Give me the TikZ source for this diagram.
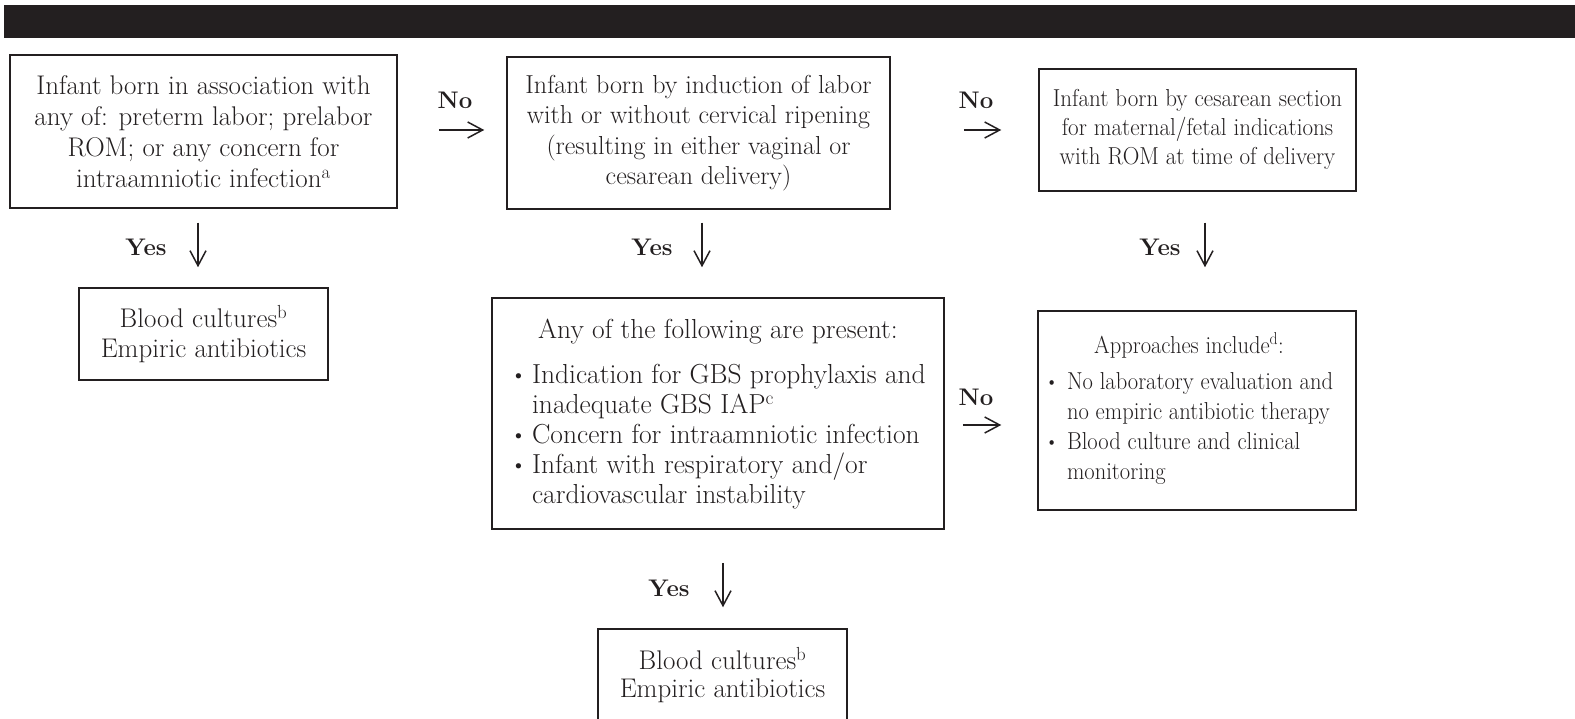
\documentclass[tikz,border=0pt]{standalone}
\usetikzlibrary{arrows.meta}
\definecolor{ink}{HTML}{231F20}
\newcommand{\bul}{\raisebox{0.1ex}{\scalebox{0.85}{\textbullet}}}
\begin{document}
\begin{tikzpicture}[x=1pt,y=-1pt,
  box/.style={draw=ink, line width=1.5pt, inner sep=0pt, align=center, text=ink},
  big/.style={font=\fontsize{27}{31}\selectfont},
  mid/.style={font=\fontsize{26}{30.5}\selectfont},
  lab/.style={font=\fontsize{24}{28}\selectfont\bfseries, text=ink},
  arr/.style={draw=ink, line width=1.5pt, -{Straight Barb[length=15pt,width=16pt,line width=1.5pt]}}]
\useasboundingbox (0,0) rectangle (1575,719);
\fill[ink] (4,5) rectangle (1575,38);

\node[box, big, minimum width=387pt, minimum height=153pt] (A) at (203.5,131.5)
  {Infant born in association with\\any of: preterm labor; prelabor\\ROM; or any concern for\\intraamniotic infection\textsuperscript{a}};
\node[box, mid, minimum width=383pt, minimum height=152pt] (B) at (698.5,133)
  {Infant born by induction of labor\\with or without cervical ripening\\(resulting in either vaginal or\\cesarean delivery)};
\node[box, font=\fontsize{24.5}{29}\selectfont, minimum width=317pt, minimum height=122pt] (C) at (1197.5,130)
  {\scalebox{0.94}[1]{\begin{tabular}{@{}c@{}}Infant born by cesarean section\\for maternal/fetal indications\\with ROM at time of delivery\end{tabular}}};
\node[box, font=\fontsize{27}{30}\selectfont, minimum width=249pt, minimum height=92pt] (L) at (203.5,334)
  {Blood cultures\textsuperscript{b}\\Empiric antibiotics};
\node[box, font=\fontsize{27.5}{30}\selectfont, minimum width=452pt, minimum height=231pt] (D) at (718,413.5)
  {\rule{0pt}{24pt}Any of the following are present:\\[17pt]
   \begin{tabular}{@{}l@{\hspace{5pt}}l@{}}
   \bul & Indication for GBS prophylaxis and\\
        & inadequate GBS IAP\textsuperscript{c}\\
   \bul & Concern for intraamniotic infection\\
   \bul & Infant with respiratory and/or\\
        & cardiovascular instability
   \end{tabular}};
\node[box, font=\fontsize{24.5}{30}\selectfont, minimum width=318pt, minimum height=199pt] (F) at (1197,410.5)
  {\scalebox{0.92}[1]{\begin{tabular}{@{}c@{}}Approaches include\textsuperscript{d}:\\[6pt]
   \begin{tabular}{@{}l@{\hspace{9pt}}l@{}}
   \bul & No laboratory evaluation and\\
        & no empiric antibiotic therapy\\
   \bul & Blood culture and clinical\\
        & monitoring
   \end{tabular}\end{tabular}}\hspace*{16pt}};
\node[box, font=\fontsize{27}{28.5}\selectfont, minimum width=249pt, minimum height=92pt] (E) at (722.5,675)
  {Blood cultures\textsuperscript{b}\\Empiric antibiotics};

% No arrows
\draw[arr, shorten <=41pt, shorten >=22pt] ([yshift=1.5pt]A.east) -- ([yshift=1.5pt]A.east -| B.west);
\node[lab] (n1) at (455,100) {No};
\draw[arr, shorten <=73pt, shorten >=37pt] ([yshift=3pt]B.east) -- ([yshift=3pt]B.east -| C.west);
\node[lab] (n2) at (976,100) {No};
\draw[arr, shorten <=18pt, shorten >=36pt] ([yshift=-11.5pt]D.east) -- ([yshift=-11.5pt]D.east -| F.west);
\node[lab] (n3) at (976,397) {No};

% Yes arrows
\draw[arr, shorten <=14pt, shorten >=20pt] ([xshift=-5.5pt]A.south) -- ([xshift=-5.5pt]L.north);
\node[lab] (y1) at (146,247) {Yes};
\draw[arr, shorten <=13pt, shorten >=30pt] ([xshift=3.5pt]B.south) -- ([xshift=3.5pt]B.south |- D.north);
\node[lab] (y2) at (652,247) {Yes};
\draw[arr, shorten <=31pt, shorten >=43pt] ([xshift=7.5pt]C.south) -- ([xshift=7.5pt]C.south |- F.north);
\node[lab] (y3) at (1160,247) {Yes};
\draw[arr, shorten <=33pt, shorten >=21pt] ([xshift=5pt]D.south) -- ([xshift=5pt]D.south |- E.north);
\node[lab] (y4) at (669,588) {Yes};
\end{tikzpicture}
\end{document}
